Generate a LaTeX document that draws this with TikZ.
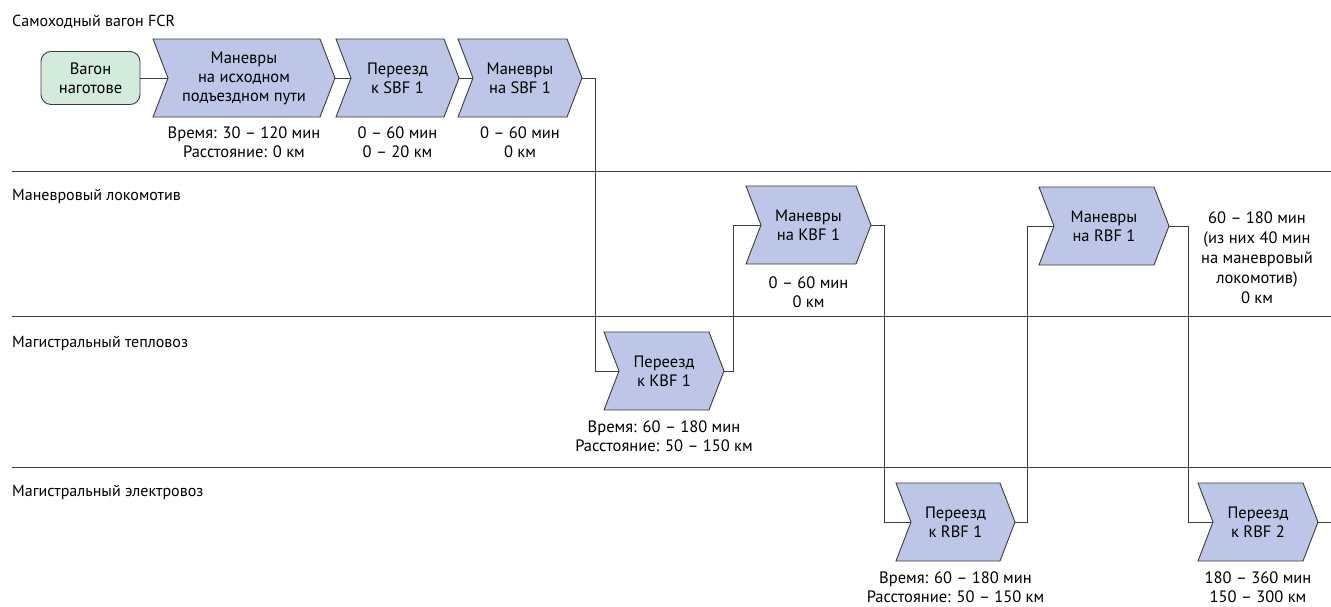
\documentclass[tikz,border=0pt]{standalone}
\usepackage{fontspec}
\setmainfont{PT Sans}
\usetikzlibrary{calc}
\definecolor{chevfill}{HTML}{BDC6E6}
\definecolor{startfill}{HTML}{D3EBDD}
\definecolor{edge}{HTML}{3C3C3C}
\tikzset{
  chevshape/.style={draw=edge, fill=chevfill, line width=0.9pt, line join=miter},
  ctext/.style={inner sep=0pt, align=center, font=\fontsize{16.5}{19}\selectfont},
  lanelabel/.style={inner sep=0pt, anchor=west, font=\fontsize{16}{19}\selectfont},
  laneline/.style={draw=edge, line width=0.9pt},
  conn/.style={draw=edge, line width=0.9pt},
  startbox/.style={draw=edge, fill=startfill, line width=0.9pt, rounded corners=10pt,
    minimum width=99pt, minimum height=53pt, inner sep=0pt, align=center,
    font=\fontsize{16.5}{19}\selectfont}
}
% #1 name, #2 left x, #3 right x, #4 center y, #5 text
\newcommand\chevbox[5]{%
  \draw[chevshape] (#2,#4-39) -- (#3-15,#4-39) -- (#3,#4) -- (#3-15,#4+39)
     -- (#2,#4+39) -- (#2+15,#4) -- cycle;
  \node[ctext] (#1) at ({(#2+#3)/2},#4) {#5};
  \coordinate (#1-in) at (#2+15,#4);
  \coordinate (#1-out) at (#3,#4);
}
\begin{document}
\begin{tikzpicture}[x=1pt,y=-1pt]
\useasboundingbox (0,0) rectangle (1331,606);
% lane separators
\coordinate (l1a) at (12,171); \coordinate (l1b) at (1331,171);
\coordinate (l2a) at (12,316); \coordinate (l2b) at (1331,316);
\coordinate (l3a) at (12,467); \coordinate (l3b) at (1331,467);
\draw[laneline] (l1a) -- (l1b);
\draw[laneline] (l2a) -- (l2b);
\draw[laneline] (l3a) -- (l3b);
% lane labels
\node[lanelabel] (lane1) at (12,22) {Самоходный вагон FCR};
\node[lanelabel] (lane2) at (12,196) {Маневровый локомотив};
\node[lanelabel] (lane3) at (12,343) {Магистральный тепловоз};
\node[lanelabel] (lane4) at (12,492) {Магистральный электровоз};
% start
\node[startbox] (start) at (90.5,78) {Вагон\\наготове};
% chevrons
\chevbox{c1}{153}{335}{78}{Маневры\\на исходном\\подъездном пути}
\chevbox{c2}{336}{459}{78}{Переезд\\к SBF 1}
\chevbox{c3}{458}{582}{78}{Маневры\\на SBF 1}
\chevbox{c4}{604}{724}{371}{Переезд\\к KBF 1}
\chevbox{c5}{746}{871}{225}{Маневры\\на KBF 1}
\chevbox{c6}{896}{1015}{522}{Переезд\\к RBF 1}
\chevbox{c7}{1039}{1169}{226}{Маневры\\на RBF 1}
\chevbox{c8}{1198}{1318}{522}{Переезд\\к RBF 2}
% labels
\node[ctext] (t1) at (244,142.5) {Время: 30 – 120 мин\\Расстояние: 0 км};
\node[ctext] (t2) at (397.5,142.5) {0 – 60 мин\\0 – 20 км};
\node[ctext] (t3) at (520,142.5) {0 – 60 мин\\0 км};
\node[ctext] (t4) at (664,436.5) {Время: 60 – 180 мин\\Расстояние: 50 – 150 км};
\node[ctext] (t5) at (808.5,292.5) {0 – 60 мин\\0 км};
\node[ctext] (t6) at (955.5,587) {Время: 60 – 180 мин\\Расстояние: 50 – 150 км};
\node[ctext,font=\fontsize{16.5}{20}\selectfont] (t7) at (1257,258) {60 – 180 мин\\(из них 40 мин\\на маневровый\\локомотив)\\0 км};
\node[ctext] (t8) at (1258,587) {180 – 360 мин\\150 – 300 км};
% connectors
\coordinate (end) at (1331,522);
\draw[conn] (start.east) -- (c1-in);
\draw[conn] (c1-out) -- (c2-in);
\draw[conn] (c2-out) -- (c3-in);
\draw[conn] (c3-out) -- ++(13,0) |- (c4-in);
\draw[conn] (c4-out) -- ++(9,0) |- (c5-in);
\draw[conn] (c5-out) -- ++(13,0) |- (c6-in);
\draw[conn] (c6-out) -- ++(12,0) |- (c7-in);
\draw[conn] (c7-out) -- ++(19,0) |- (c8-in);
\draw[conn] (c8-out) -- (end);
\end{tikzpicture}
\end{document}
